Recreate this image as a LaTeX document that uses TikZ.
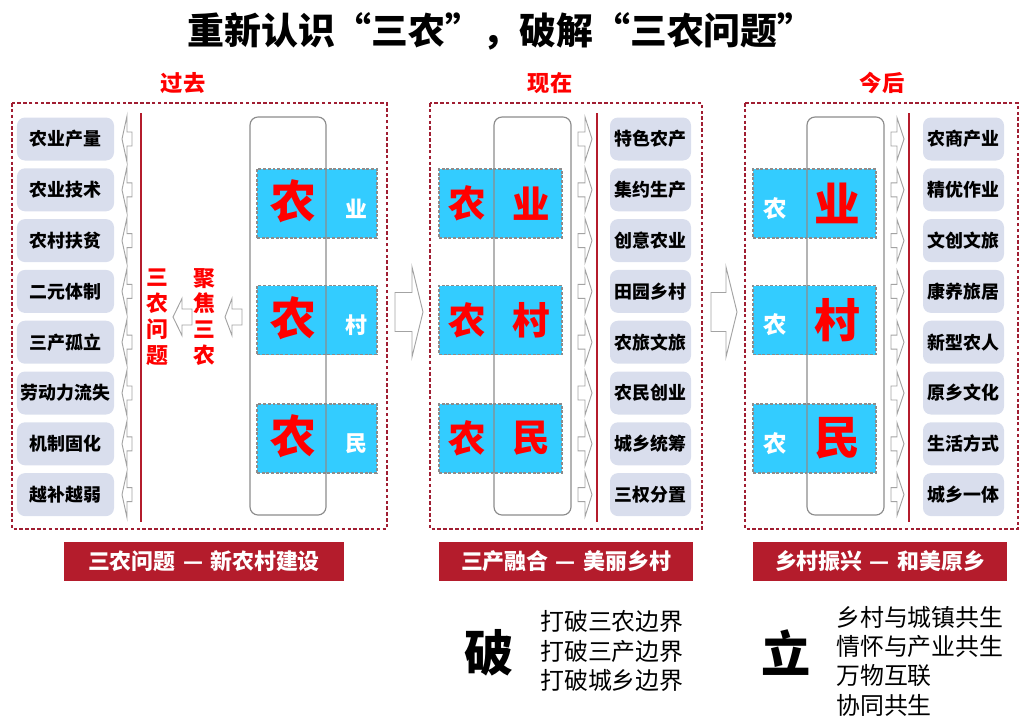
\documentclass[tikz,border=0pt]{standalone}
\usepackage{tikz}
\usetikzlibrary{positioning}
\usepackage{fontspec}
\setmainfont{Noto Sans CJK SC}
\definecolor{framered}{RGB}{160,30,50}
\definecolor{barred}{RGB}{180,28,44}
\definecolor{itemgray}{RGB}{217,222,237}
\definecolor{nongcyan}{RGB}{51,204,255}
\definecolor{hotred}{RGB}{255,0,0}
\definecolor{pillargray}{RGB}{140,140,140}

\tikzset{
  headtext/.style={font=\bfseries\fontsize{31.5}{36}\selectfont},
  eratext/.style={text=hotred,font=\bfseries\fontsize{19}{22}\selectfont},
  panelframe/.style={draw=framered,line width=1pt,dash pattern=on 3pt off 2pt},
  itembox/.style={fill=itemgray,rounded corners=2.4mm,minimum height=12.9mm,
    inner sep=0pt,font=\bfseries\fontsize{15.3}{18}\selectfont},
  blockarrow/.style={draw=pillargray!80,fill=white,line width=0.8pt,line join=miter},
  redline/.style={draw=barred,line width=2.2pt},
  cyanbox/.style={fill=nongcyan,draw=pillargray,line width=0.9pt,
    dash pattern=on 2.5pt off 1.5pt,minimum width=36.9mm,minimum height=20.7mm},
  pillar/.style={draw=pillargray,line width=1pt,rounded corners=2.4mm},
  vtext/.style={text=hotred,align=center,inner sep=0pt,
    font=\bfseries\fontsize{18.7}{22.1}\selectfont},
  banner/.style={fill=barred,text=white,minimum height=11.7mm,inner sep=0pt,
    font=\bfseries\fontsize{18.7}{22}\selectfont},
  bigchar/.style={font=\bfseries\fontsize{42}{48}\selectfont,inner sep=0pt},
  listtext/.style={align=left,inner sep=0pt,font=\fontsize{20.4}{25}\selectfont}
}

\begin{document}
\begin{tikzpicture}[x=0.3mm,y=-0.3mm]
  \useasboundingbox (0,0) rectangle (1028,725);
  % title
  \node[headtext] (heading) at (501,31) {重新认识“三农”，破解“三农问题”};

  % panel frames
  \draw[panelframe] (12,103) rectangle (387,529);
  \draw[panelframe] (430,103) rectangle (702,529);
  \draw[panelframe] (745,103) rectangle (1018,529);
  \node[eratext] (past) at (183,83) {过去};
  \node[eratext] (now) at (550,83) {现在};
  \node[eratext] (future) at (882,83) {今后};

  % item boxes with small arrows
  \foreach \t [count=\i] in {农业产量,农业技术,农村扶贫,二元体制,三产孤立,劳动力流失,机制固化,越补越弱} {
    \pgfmathsetmacro{\y}{139+50.8*(\i-1)}
    \node[itembox,minimum width=29.1mm] (past\i) at (65.5,\y) {\t};
    \draw[blockarrow] (122,\y) -- (127,\y-23) -- (127,\y-7) -- (132,\y-7)
      -- (132,\y+7) -- (127,\y+7) -- (127,\y+23) -- cycle;
  }
  \foreach \t [count=\i] in {特色农产,集约生产,创意农业,田园乡村,农旅文旅,农民创业,城乡统筹,三权分置} {
    \pgfmathsetmacro{\y}{139+50.8*(\i-1)}
    \node[itembox,minimum width=24.3mm] (now\i) at (650.5,\y) {\t};
    \draw[blockarrow] (578,\y-7) -- (585,\y-7) -- (585,\y-22) -- (592,\y)
      -- (585,\y+22) -- (585,\y+7) -- (578,\y+7) -- cycle;
  }
  \foreach \t [count=\i] in {农商产业,精优作业,文创文旅,康养旅居,新型农人,原乡文化,生活方式,城乡一体} {
    \pgfmathsetmacro{\y}{139+50.8*(\i-1)}
    \node[itembox,minimum width=24.3mm] (future\i) at (963.5,\y) {\t};
    \draw[blockarrow] (891,\y-7) -- (897,\y-7) -- (897,\y-21) -- (904,\y)
      -- (897,\y+21) -- (897,\y+7) -- (891,\y+7) -- cycle;
  }

  % red divider lines
  \draw[redline] (141,113) -- (141,522);
  \draw[redline] (597,113) -- (597,522);
  \draw[redline] (909,113) -- (909,522);

  % focus on the three rural issues
  \node[vtext] (issues) at (157.5,317) {三\\农\\问\\题};
  \node[vtext] (focus) at (204,317) {聚\\焦\\三\\农};
  \draw[blockarrow] (173,317) -- (182,298.5) -- (182,309) -- (192,309)
    -- (192,325) -- (182,325) -- (182,335.5) -- cycle;
  \draw[blockarrow] (225,317) -- (232,298.5) -- (232,309) -- (242,309)
    -- (242,325) -- (232,325) -- (232,335.5) -- cycle;

  % transitions between panels
  \draw[blockarrow] (395,292.5) -- (412,292.5) -- (412,267) -- (423,312)
    -- (412,357) -- (412,331.5) -- (395,331.5) -- cycle;
  \draw[blockarrow] (711,292.5) -- (726,292.5) -- (726,267) -- (737,312)
    -- (726,357) -- (726,331.5) -- (711,331.5) -- cycle;

  % cyan blocks
  \foreach \y [count=\i] in {203.5,320,438.5} {
    \node[cyanbox,minimum width=36mm] (pastblock\i) at (317,\y) {};
    \node[cyanbox] (nowblock\i) at (500.5,\y) {};
    \node[cyanbox] (futureblock\i) at (814.5,\y) {};
  }
  \draw[pillar] (250,117) rectangle (326,515);
  \draw[pillar] (494,117) rectangle (571,515);
  \draw[pillar] (807,117) rectangle (884,515);

  % characters in the blocks
  \foreach \c/\y [count=\i] in {业/203.5,村/320,民/438.5} {
    \node[text=hotred,font=\bfseries\fontsize{39}{44}\selectfont] (pastnong\i) at (293,\y-2) {农};
    \node[text=white,font=\bfseries\fontsize{18.7}{22}\selectfont] (pastchar\i) at (356,\y+5) {\c};
    \node[text=hotred,font=\bfseries\fontsize{32}{36}\selectfont] (nownong\i) at (467,\y) {农};
    \node[text=hotred,font=\bfseries\fontsize{32}{36}\selectfont] (nowchar\i) at (531,\y) {\c};
    \node[text=white,font=\bfseries\fontsize{20}{24}\selectfont] (futurenong\i) at (775,\y+5) {农};
    \node[text=hotred,font=\bfseries\fontsize{39}{44}\selectfont] (futurechar\i) at (837,\y) {\c};
  }

  % banners
  \node[banner,minimum width=84mm] (pastbar) at (204,561.5) {三农问题\,\,—\,\,新农村建设};
  \node[banner,minimum width=76.2mm] (nowbar) at (566,561.5) {三产融合\,\,—\,\,美丽乡村};
  \node[banner,minimum width=76.2mm] (futurebar) at (880,561.5) {乡村振兴\,\,—\,\,和美原乡};

  % break and build
  \node[bigchar] (po) at (489,653) {破};
  \node[listtext,anchor=west] (polist) at (540,651) {打破三农边界\\打破三产边界\\打破城乡边界};
  \node[bigchar] (li) at (786,653) {立};
  \node[listtext,anchor=west] (lilist) at (836,661) {乡村与城镇共生\\情怀与产业共生\\万物互联\\协同共生};
\end{tikzpicture}
\end{document}
